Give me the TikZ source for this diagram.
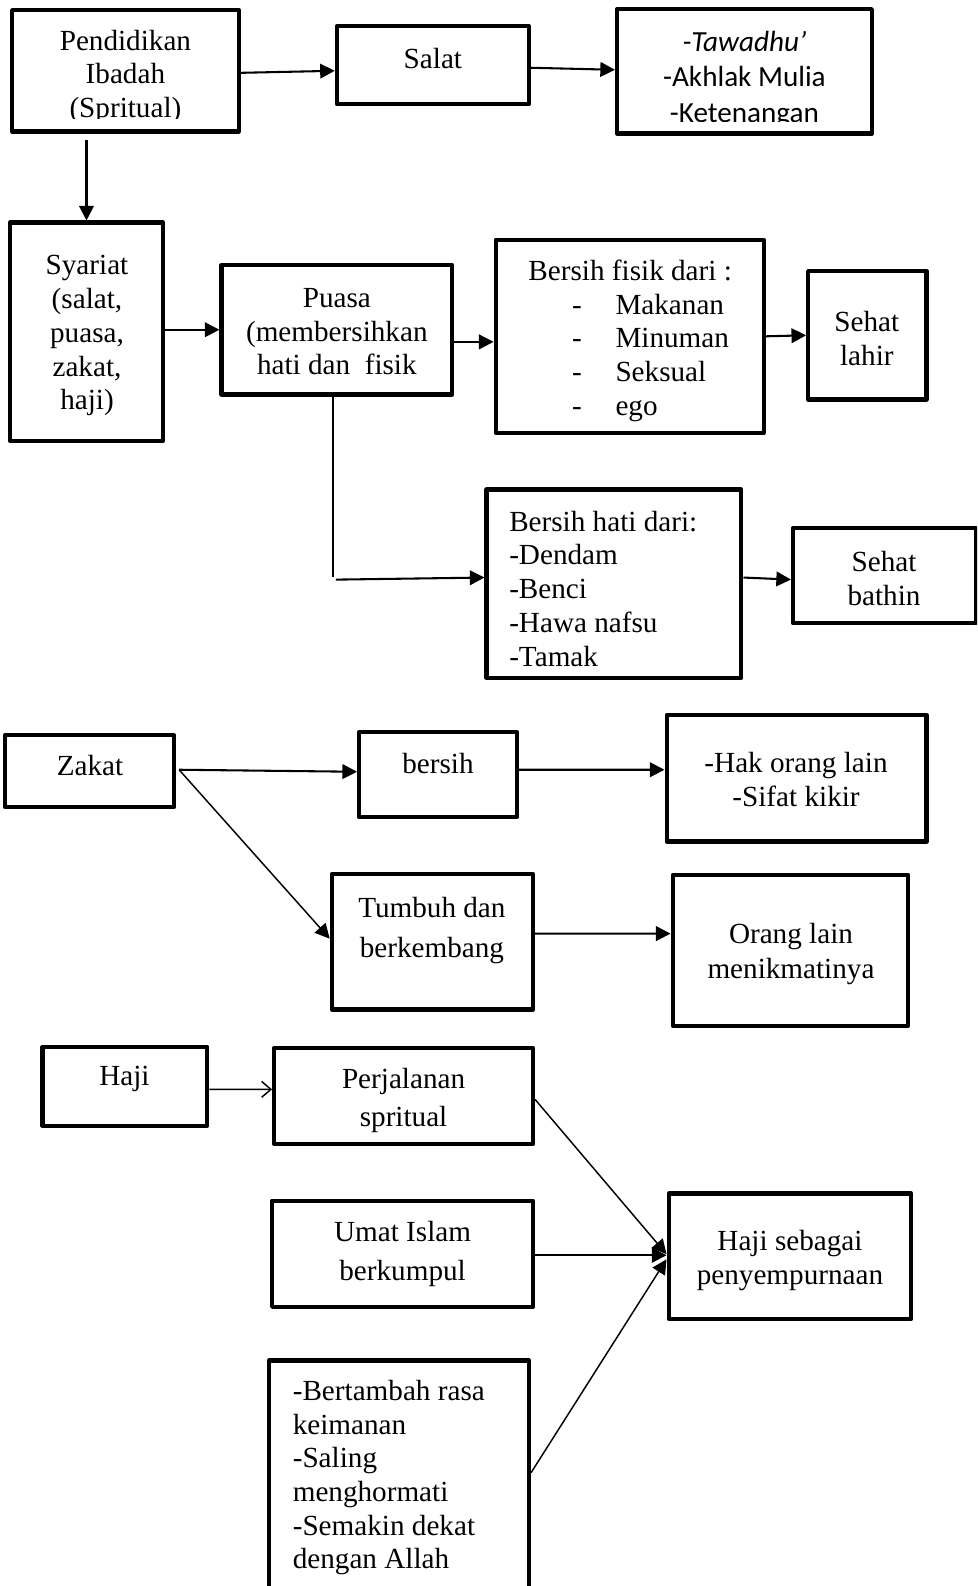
\documentclass[tikz,border=0pt]{standalone}
\usepackage{fontspec}
\setmainfont{Liberation Serif}
\newfontfamily\calibrifont{Carlito}
\usetikzlibrary{arrows.meta,calc,fit}

\tikzset{
  box/.style={draw, line width=1.7pt, line join=round, inner sep=0pt},
  txt/.style={inner sep=0pt, align=center, font=\fontsize{12}{13.9}\selectfont},
  lsk/.style={font=\fontsize{12}{#1}\selectfont},
  link/.style={line width=0.85pt, -{Triangle[length=6pt,width=6pt]}},
  thinlink/.style={line width=0.6pt, -{Triangle[length=6pt,width=6pt]}},
  openlink/.style={line width=0.6pt, -{Straight Barb[length=3.8pt,width=6.5pt]}},
}

\begin{document}
\begin{tikzpicture}[x=0.416pt, y=-0.416pt]
\useasboundingbox (0,0) rectangle (966,1568);
\clip (0,0) rectangle (966,1568);

% ---------- Pendidikan Ibadah / Salat ----------
\node[box, fit={(12,10)(236,130)}] (pend) {};
\begin{scope}
  \clip (12,10) rectangle (236,117);
  \node[txt] (pendtxt) at (124,76) {Pendidikan\\Ibadah\\(Spritual)};
\end{scope}

\node[box, fit={(333,26)(523,103)}] (salat) {};
\node[txt] (salattxt) at (428,58) {Salat};

\node[box, fit={(610,9)(862,132)}] (taw) {};
\begin{scope}
  \clip (610,9) rectangle (862,120);
  \node[txt, font=\calibrifont\fontsize{12}{14.6}\selectfont] (tawtxt) at (736,78)
    {\textit{-Tawadhu’}\\-Akhlak Mulia\\-Ketenangan};
\end{scope}

\draw[link] ($(pend.east)+(0,2)$) -- ($(salat.west)+(0,5.5)$);
\draw[link] ($(salat.east)+(0,2.5)$) -- ($(taw.west)+(0,-1.5)$);

% ---------- Syariat / Puasa ----------
\node[box, fit={(10,220)(161,436)}] (syar) {};
\node[txt] (syartxt) at (86,332) {Syariat\\(salat,\\puasa,\\zakat,\\haji)};

\draw[link] ($(syar.north)+(0,-80)$) -- (syar.north);

\node[box, fit={(219,262)(447,390)}] (puasa) {};
\node[txt] (puasatxt) at (333,328) {Puasa\\(membersihkan\\hati dan~ fisik};

\node[box, fit={(490,237)(755,428)}] (fisik) {};
\node[txt, align=left, anchor=west] (fisiktxt) at (522,337)
  {Bersih fisik dari :\\
   \hspace*{17.9pt}\makebox[17.9pt][l]{-}Makanan\\
   \hspace*{17.9pt}\makebox[17.9pt][l]{-}Minuman\\
   \hspace*{17.9pt}\makebox[17.9pt][l]{-}Seksual\\
   \hspace*{17.9pt}\makebox[17.9pt][l]{-}ego};

\node[box, fit={(799,268)(916,395)}] (lahir) {};
\node[txt] (lahirtxt) at (857,335) {Sehat\\lahir};

\draw[link] ($(syar.east)+(-4,-2)$) -- (puasa.west);
\draw[link] ($(puasa.east)+(0,12)$) -- ($(fisik.west)+(0,5.5)$);
\draw[link] (fisik.east) -- (lahir.west);

\node[box, fit={(481,484)(733,670)}] (hati) {};
\node[txt, align=left, anchor=west] (hatitxt) at (503,582)
  {Bersih hati dari:\\-Dendam\\-Benci\\-Hawa nafsu\\-Tamak};

\node[box, fit={(784,522)(965,616)}] (bathin) {};
\node[txt] (bathintxt) at (874,572) {Sehat\\bathin};

\draw[line width=0.6pt] ($(puasa.south)+(-4,0)$) -- ++(0,178);
\draw[link] ($(puasa.south)+(-1,181)$) -- ($(hati.west)+(0,-6)$);
\draw[link] ($(hati.east)+(0,-6)$) -- ($(bathin.west)+(0,4)$);

% ---------- Zakat ----------
\node[box, fit={(5,727)(172,798)}] (zakat) {};
\node[txt] (zakattxt) at (89,757) {Zakat};

\node[box, fit={(355,724)(511,808)}] (bersih) {};
\node[txt] (bersihtxt) at (433,755) {bersih};

\node[box, fit={(659,707)(916,832)}] (hak) {};
\node[txt, lsk=14.1pt] (haktxt) at (787,771) {-Hak orang lain\\-Sifat kikir};

\node[box, fit={(328,864)(527,998)}] (tumbuh) {};
\node[txt, lsk=16.2pt] (tumbuhtxt) at (427,920) {Tumbuh dan\\berkembang};

\node[box, fit={(665,865)(898,1014)}] (orang) {};
\node[txt, lsk=14.6pt] (orangtxt) at (782,943) {Orang lain\\menikmatinya};

\draw[link] ($(zakat.east)+(3,-1.5)$) -- ($(bersih.west)+(0,-3)$);
\draw[link] ($(bersih.east)+(0,-5)$) -- ($(hak.west)+(0,-8.5)$);
\draw[thinlink] ($(zakat.east)+(3,-1.5)$) -- ($(tumbuh.west)+(0,-3)$);
\draw[link] ($(tumbuh.east)+(0,-8)$) -- ($(orang.west)+(0,-16.5)$);

% ---------- Haji ----------
\node[box, fit={(42,1035)(205,1113)}] (haji) {};
\node[txt] (hajitxt) at (123,1067) {Haji};

\node[box, fit={(271,1036)(527,1131)}] (perj) {};
\node[txt, lsk=15.8pt] (perjtxt) at (399,1088) {Perjalanan\\spritual};

\node[box, fit={(269,1187)(527,1292)}] (umat) {};
\node[txt, lsk=16.2pt] (umattxt) at (398,1240) {Umat Islam\\berkumpul};

\node[box, fit={(661,1180)(901,1304)}] (hs) {};
\node[txt, lsk=14.1pt] (hstxt) at (781,1246) {Haji sebagai\\penyempurnaan};

\node[box, fit={(266,1345)(523,1600)}] (iman) {};
\node[txt, align=left, anchor=west, lsk=13.8pt] (imantxt) at (289,1461)
  {-Bertambah rasa\\keimanan\\-Saling\\menghormati\\-Semakin dekat\\dengan Allah};

\draw[openlink] ($(haji.east)+(0,3)$) -- ($(perj.west)+(0,-6.5)$);
\draw[thinlink] ($(perj.east)+(0,3.5)$) -- ($(hs.west)+(0,-2)$);
\draw[link] ($(umat.east)+(0,1.5)$) -- ($(hs.west)+(0,-1)$);
\draw[thinlink] ($(iman.north east)+(0,113)$) -- ($(hs.west)+(0,3)$);

\end{tikzpicture}
\end{document}
